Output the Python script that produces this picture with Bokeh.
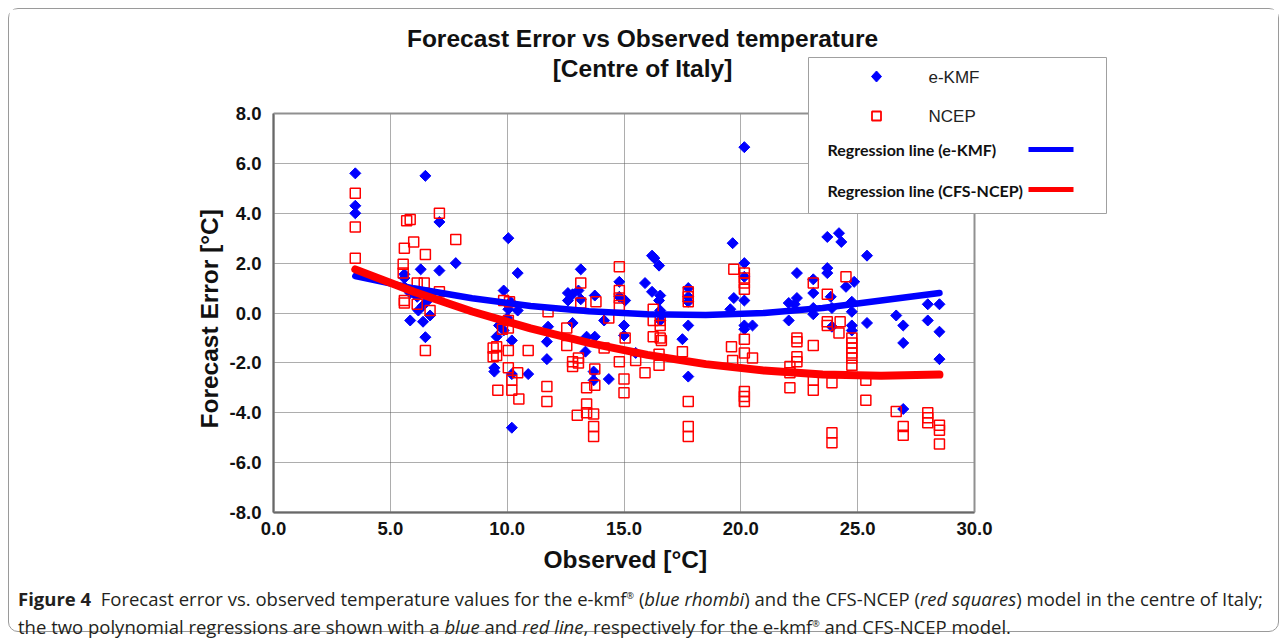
import math
from bokeh.plotting import figure
from bokeh.models import (Label, PolyAnnotation, Arrow, FixedTicker, Title,
                          NumeralTickFormatter, Div, Range1d)
from bokeh.layouts import column
from bokeh.embed import file_html
from bokeh.resources import INLINE

# ---------------- data ----------------
ekmf_obs = [3.5, 3.5, 3.5,
            6.5, 7.1, 7.8, 6.3, 7.1, 5.6, 5.6, 5.6, 5.85, 6.15, 6.4, 6.6, 5.85, 6.4, 6.7, 6.5, 6.2,
            10.05, 10.45, 9.85, 10.15, 10.45, 10.05, 9.65, 9.85, 9.55, 10.2, 9.45, 9.45, 10.9, 10.2, 10.2, 10.0,
            11.75, 11.7, 11.7,
            13.15, 12.6, 12.8, 13.05, 12.6, 13.15, 12.8, 13.4, 13.75, 13.35, 13.75, 13.7, 13.7, 14.35, 14.15,
            14.8, 14.8, 15.05, 15.0, 15.0, 15.5,
            16.2, 16.3, 16.5, 15.9, 16.2, 16.55, 16.5, 16.55, 16.6, 16.55,
            17.75, 17.75, 17.75, 17.75, 17.5, 17.75,
            19.65, 20.15, 20.15, 20.15, 19.7, 20.15, 19.55, 20.15, 20.15, 20.5,
            22.4, 22.05, 22.4, 22.05, 22.3,
            23.7, 24.2, 24.3, 25.4, 23.7, 23.7, 23.1, 23.1, 24.5, 24.85, 23.1, 23.1, 23.85, 23.9,
            24.75, 24.75, 23.9, 24.75, 24.75, 25.4,
            26.65, 26.95, 26.95, 28.0, 28.5, 28.0, 28.5, 28.5, 26.95]
ekmf_err = [5.6, 4.3, 4.0,
            5.5, 3.65, 2.0, 1.75, 1.7, 1.55, 1.4, 1.05, 0.8, 0.65, 0.3, 0.5, -0.3, -0.35, -0.1, -0.97, 0.1,
            3.0, 1.6, 0.9, 0.45, 0.1, 0.15, -0.5, -0.7, -0.95, -1.1, -2.2, -2.35, -2.45, -2.45, -4.6, -0.2,
            -0.55, -1.15, -1.85,
            1.75, 0.8, 0.75, 0.9, 0.5, 0.55, -0.4, -0.95, -0.95, -1.55, 0.7, -2.35, -2.7, -2.65, -0.3,
            1.25, 0.65, 0.5, -0.5, -0.9, -1.6,
            2.3, 2.2, 1.9, 1.2, 0.85, 0.7, 0.5, 0.1, -0.1, -0.3,
            1.0, 0.65, 0.45, -0.5, -1.05, -2.55,
            2.8, 6.65, 2.0, 1.45, 0.6, 0.5, 0.15, -0.5, -0.65, -0.5,
            1.6, 0.4, 0.6, -0.3, 0.35,
            3.05, 3.2, 2.85, 2.3, 1.8, 1.6, 1.35, 0.8, 1.05, 1.25, 0.2, -0.05, 0.65, 0.2,
            0.45, 0.05, -0.55, -0.5, -0.7, -0.4,
            -0.1, -0.5, -1.2, 0.35, 0.35, -0.3, -0.75, -1.85, -3.85]

ncep_obs = [3.5, 3.5, 3.5,
            7.1, 7.8, 5.7, 5.85, 6.0, 5.6, 6.5, 5.55, 5.55, 6.15, 6.45, 7.1, 5.6, 5.6, 6.15, 6.7, 6.5,
            9.85, 10.1, 10.05, 10.05, 9.8, 9.4, 9.4, 9.55, 9.55, 10.05, 10.9, 9.6, 10.05, 10.45, 10.2, 10.2, 10.5,
            11.75, 11.7, 11.7,
            12.55, 12.55, 12.8, 12.8, 13.05, 13.05, 13.15, 13.15, 13.8,
            14.8, 14.8, 14.8, 14.8, 14.35, 14.15, 14.8, 15.05, 15.5,
            13.75, 13.75, 13.4, 15.0, 15.0, 13.4, 13.4, 13.0, 13.7, 13.7, 13.7, 15.9,
            16.25, 16.25, 16.55, 16.55, 16.25, 16.55, 16.6, 16.5, 16.5, 17.5,
            17.75, 17.75, 17.75, 17.75, 17.75, 17.75,
            19.7, 20.15, 20.15, 20.15, 20.15, 19.6, 19.65, 20.15, 20.15, 20.5, 20.15, 20.15, 20.15,
            22.4, 22.4, 22.4, 22.4, 22.1, 22.1, 22.1,
            24.5, 23.1, 23.7, 23.7, 23.7, 24.25, 24.2, 23.1,
            24.75, 24.75, 24.75, 24.75, 24.75, 24.75,
            23.1, 23.1, 23.9, 25.35, 25.35, 23.9, 23.9,
            26.65, 26.95, 26.95, 28.0, 28.0, 28.0, 28.5, 28.5, 28.5]
ncep_err = [4.8, 3.45, 2.2,
            4.0, 2.95, 3.7, 3.75, 2.85, 2.6, 2.35, 1.95, 1.6, 1.2, 1.2, 0.85, 0.5, 0.4, 0.35, 0.1, -1.5,
            0.5, 0.45, -0.3, -0.6, -0.65, -1.4, -1.75, -1.35, -1.7, -1.5, -1.5, -3.1, -2.2, -2.4, -2.7, -3.1, -3.45,
            0.05, -2.95, -3.55,
            -0.6, -1.3, -1.95, -2.15, -1.8, -2.0, 1.2, 0.4, 0.45,
            1.85, 0.9, 0.6, 0.3, -0.2, -1.4, -1.95, -1.0, -1.9,
            -2.25, -2.9, -3.0, -2.65, -3.2, -3.65, -4.0, -4.1, -4.05, -4.55, -4.95, -2.4,
            0.15, -0.3, -0.3, -0.5, -0.95, -1.0, -1.1, -1.65, -2.1, -1.55,
            0.85, 0.65, 0.45, -3.55, -4.55, -4.95,
            1.75, 1.6, 1.4, 1.2, 0.95, -1.35, -1.9, -1.05, -1.6, -1.8, -3.15, -3.35, -3.55,
            -1.0, -1.15, -1.75, -1.95, -2.15, -2.4, -3.0,
            1.45, 1.2, 0.75, -0.35, -0.5, -0.35, -0.8, -1.3,
            -1.0, -1.2, -1.4, -1.6, -1.8, -2.1,
            -2.7, -3.1, -2.8, -2.7, -3.5, -4.8, -5.2,
            -3.95, -4.55, -4.9, -4.0, -4.2, -4.4, -4.5, -4.7, -5.25]

# regression curves
reg_x = [3.5, 6.0, 8.5, 11.0, 13.5, 16.0, 18.5, 21.0, 23.5, 26.0, 28.5]
reg_ekmf = [1.48, 0.99, 0.59, 0.28, 0.07, -0.05, -0.08, 0.0, 0.2, 0.5, 0.8]
reg_ncep = [1.75, 0.85, 0.06, -0.62, -1.2, -1.68, -2.05, -2.31, -2.47, -2.52, -2.47]

x_ticks = [0, 5, 10, 15, 20, 25, 30]
y_ticks = [-8, -6, -4, -2, 0, 2, 4, 6, 8]
X_MIN, X_MAX = 0, 30
Y_MIN, Y_MAX = -8, 8


# page pixel -> data coordinate helpers (chart box: x 273..974, y 113..512 on the page)
def X(px):
    return (px - 273) * 30.0 / 701.0


def Y(py):
    return 8.0 - (py - 113) * 16.0 / 399.0


# ---------------- figure ----------------
# The frame is extended up and to the right so that the title and legend,
# which sit outside the chart box, are not clipped.
W, H = 1269, 574
OX, OY = 9, 9          # page position of the figure's top-left corner
FRAME_L, FRAME_B = 273, 512
p = figure(width=W, height=H, output_backend="svg", toolbar_location=None,
           x_range=Range1d(X_MIN, X(1115)), y_range=Range1d(Y_MIN, Y(15)),
           min_border_left=FRAME_L - OX, min_border_right=W - (1115 - OX),
           min_border_top=15 - OY, min_border_bottom=H - (FRAME_B - OY))
p.background_fill_color = "white"
p.border_fill_color = "white"
p.outline_line_color = None

BOLD_FONT = "Liberation Sans"
for ax, ticks, bnds in ((p.xaxis, x_ticks, (X_MIN, X_MAX)), (p.yaxis, y_ticks, (Y_MIN, Y_MAX))):
    ax.ticker = FixedTicker(ticks=ticks)
    ax.bounds = bnds
    ax.formatter = NumeralTickFormatter(format="0.0")
    ax.major_tick_line_color = None
    ax.minor_tick_line_color = None
    ax.axis_line_color = "#404040"
    ax.axis_line_width = 2
    ax.major_label_text_font = BOLD_FONT
    ax.major_label_text_font_style = "bold"
    ax.major_label_text_font_size = "18.5px"
    ax.major_label_text_color = "#111111"

p.xaxis.major_label_standoff = 3
p.yaxis.major_label_standoff = 6

# axis titles placed along the chart box (not the extended frame)
p.add_layout(Title(text="Forecast Error [°C]", align="left", offset=FRAME_B - 428,
                   text_font=BOLD_FONT, text_font_style="bold", text_font_size="24.5px",
                   text_color="#111111", standoff=8), "left")
p.add_layout(Title(text="Observed [°C]", align="left", offset=543 - FRAME_L,
                   text_font=BOLD_FONT, text_font_style="bold", text_font_size="24.5px",
                   text_color="#111111", standoff=12), "below")

p.xgrid.ticker = FixedTicker(ticks=x_ticks)
p.ygrid.ticker = FixedTicker(ticks=y_ticks)
p.xgrid.bounds = (X_MIN, X_MAX)
p.ygrid.bounds = (Y_MIN, Y_MAX)
p.xgrid.cross_bounds = (Y_MIN, Y_MAX)
p.ygrid.cross_bounds = (X_MIN, X_MAX)
for g in (p.xgrid, p.ygrid):
    g.grid_line_color = "#5a5a5a"
    g.grid_line_dash = "1 1"
    g.grid_line_width = 1

# chart box outline
p.add_layout(PolyAnnotation(xs=[X_MIN, X_MAX, X_MAX, X_MIN], ys=[Y_MIN, Y_MIN, Y_MAX, Y_MAX],
                            fill_alpha=0.0, line_color="#909090", line_alpha=1.0, line_width=2))

# data marks
p.scatter(ekmf_obs, ekmf_err, marker="square", angle=math.pi / 4, size=7.8,
          fill_color="#0000ff", line_color="#0000ff")
p.scatter(ncep_obs, ncep_err, marker="square", size=10, fill_alpha=0,
          line_color="#ff0000", line_width=1.5)
p.line(reg_x, reg_ekmf, line_color="#0000ff", line_width=6.5, line_join="round", line_cap="round")
p.line(reg_x, reg_ncep, line_color="#ff0000", line_width=8, line_join="round", line_cap="round")

# title
for txt, py in (("Forecast Error vs Observed temperature", 38), ("[Centre of Italy]", 68)):
    p.add_layout(Label(x=X(642), y=Y(py), text=txt, text_font=BOLD_FONT,
                       text_font_style="bold", text_font_size="24.5px",
                       text_align="center", text_baseline="middle", text_color="#111111"))

# legend
p.add_layout(PolyAnnotation(xs=[X(808), X(1106), X(1106), X(808)],
                            ys=[Y(57), Y(57), Y(213), Y(213)],
                            fill_color="white", fill_alpha=1.0,
                            line_color="#a0a0a0", line_alpha=1.0, line_width=1))
p.add_layout(PolyAnnotation(xs=[X(871), X(876), X(881), X(876)],
                            ys=[Y(76), Y(70.5), Y(76), Y(81.5)],
                            fill_color="#0000ff", fill_alpha=1.0,
                            line_color="#0000ff", line_alpha=1.0, line_width=1))
p.add_layout(PolyAnnotation(xs=[X(871.5), X(880.5), X(880.5), X(871.5)],
                            ys=[Y(111), Y(111), Y(120), Y(120)],
                            fill_alpha=0.0, line_color="#ff0000", line_alpha=1.0, line_width=1.8))
p.add_layout(Label(x=X(928), y=Y(77), text="e-KMF", text_font="Liberation Sans",
                   text_font_size="17px", text_baseline="middle", text_color="#222222"))
p.add_layout(Label(x=X(928), y=Y(116), text="NCEP", text_font="Liberation Sans",
                   text_font_size="17px", text_baseline="middle", text_color="#222222"))
p.add_layout(Label(x=X(827), y=Y(149), text="Regression line (e-KMF)", text_font="Lato",
                   text_font_style="bold", text_font_size="16px", text_baseline="middle",
                   text_color="#111111"))
p.add_layout(Label(x=X(827), y=Y(190), text="Regression line (CFS-NCEP)", text_font="Lato",
                   text_font_style="bold", text_font_size="16px", text_baseline="middle",
                   text_color="#111111"))
p.add_layout(Arrow(end=None, x_start=X(1028), y_start=Y(149), x_end=X(1073), y_end=Y(149),
                   line_color="#0000ff", line_width=5))
p.add_layout(Arrow(end=None, x_start=X(1028), y_start=Y(189), x_end=X(1073), y_end=Y(189),
                   line_color="#ff0000", line_width=5))

caption = Div(
    text=('<div style="font-family:\'Open Sans\',sans-serif;'
          'font-size:18.5px;line-height:25px;color:#231f20;padding-left:9px;white-space:nowrap;">'
          '<b>Figure 4</b>&nbsp; Forecast error vs. observed temperature values for the '
          'e-kmf<sup style="font-size:9px">®</sup> (<i>blue rhombi</i>) and the CFS-NCEP '
          '(<i>red squares</i>) model in the centre of Italy;<br>'
          'the two polynomial regressions are shown with a <i>blue</i> and <i>red line</i>, '
          'respectively for the e-kmf<sup style="font-size:9px">®</sup> and CFS-NCEP model.</div>'),
    width=W, height=48, margin=0)

layout = column(p, caption, margin=(8, 8, 8, 8),
                styles={"border": "1px solid #9a9a9a", "border-radius": "10px"})

open("out.html", "w").write(file_html(layout, INLINE))
